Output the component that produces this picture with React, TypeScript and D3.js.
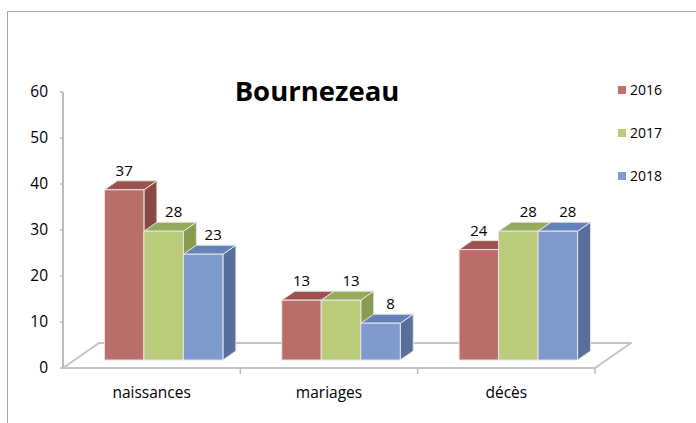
import React from "react";
import * as d3 from "d3";

const categories = ["naissances", "mariages", "décès"];
const seriesNames = ["2016", "2017", "2018"];
const values2016 = [37, 13, 24];
const values2017 = [28, 13, 28];
const values2018 = [23, 8, 28];
const yTicks = [0, 10, 20, 30, 40, 50, 60];

const seriesValues = [values2016, values2017, values2018];

// face colours per series: front, top, side
const colors = [
  { front: "#BA6E69", top: "#9E524E", side: "#8A4843", legend: "#C0706B" },
  { front: "#BACC7A", top: "#97AB5C", side: "#889C50", legend: "#B9CD7B" },
  { front: "#7F9ACC", top: "#6482B8", side: "#566F9D", legend: "#7F9ACB" },
];
const labelNudge = [0, 10, 10];

const W = 696;
const H = 423;
const font = "'Open Sans', sans-serif";

export default function App() {
  const x = d3.scaleBand<string>().domain(categories).range([63, 595]);
  const y = d3.scaleLinear().domain([0, 60]).range([368, 92]);

  const groupW = 118.5;
  const s = d3
    .scaleBand<string>()
    .domain(seriesNames)
    .range([0, groupW]);

  // floor depth and bar depth in projection
  const floor = { dx: 36, dy: -25 };
  const shift = { dx: 12, dy: -8 };
  const depth = { dx: 13, dy: -9 };

  const x0 = x.range()[0];
  const x1 = x.range()[1];
  const base = y(0);

  const bars: React.ReactNode[] = [];
  const labels: React.ReactNode[] = [];
  categories.forEach((cat, ci) => {
    const gx = (x(cat) as number) + x.bandwidth() / 2 - groupW / 2 + shift.dx;
    seriesNames.forEach((name, si) => {
      const v = seriesValues[si][ci];
      const bx = gx + (s(name) as number);
      const bw = s.bandwidth();
      const yb = base + shift.dy;
      const yt = y(v) + shift.dy;
      const c = colors[si];
      const top = `M${bx},${yt}L${bx + bw},${yt}L${bx + bw + depth.dx},${yt + depth.dy}L${bx + depth.dx},${yt + depth.dy}Z`;
      const side = `M${bx + bw},${yt}L${bx + bw + depth.dx},${yt + depth.dy}L${bx + bw + depth.dx},${yb + depth.dy}L${bx + bw},${yb}Z`;
      bars.push(
        <g key={cat + name} stroke="#E6E6E6" strokeWidth={1} strokeLinejoin="round">
          <path d={side} fill={c.side} />
          <path d={top} fill={c.top} />
          <rect x={bx} y={yt} width={bw} height={yb - yt} fill={c.front} />
        </g>
      );
      labels.push(
        <text
          key={"l" + cat + name}
          x={bx + bw / 2 + labelNudge[si]}
          y={yt + depth.dy - 5}
          textAnchor="middle"
          fontSize={15}
          fontFamily={font}
          fill="#000"
        >
          {v}
        </text>
      );
    });
  });

  const floorPath = `M${x0},${base}L${x1},${base}L${x1 + floor.dx},${base + floor.dy}L${x0 + floor.dx},${base + floor.dy}Z`;

  return (
    <svg
      width={W}
      height={H}
      style={{ position: "absolute", left: 0, top: 0, background: "#fff" }}
    >
      {/* outer frame */}
      <path d={`M7.5,${H}V11.5H${W}`} fill="none" stroke="#A6A6A6" strokeWidth={1} />

      {/* floor */}
      <path d={floorPath} fill="#fff" stroke="#C4C4C4" strokeWidth={2} strokeLinejoin="round" />

      {/* y axis */}
      <line x1={x0} x2={x0} y1={y(60)} y2={base} stroke="#BDBDBD" strokeWidth={2} />
      {yTicks.map((t) => (
        <g key={t}>
          <line x1={x0 - 3} x2={x0} y1={y(t)} y2={y(t)} stroke="#BDBDBD" strokeWidth={1.5} />
          <text
            x={48}
            y={y(t)}
            dy="0.35em"
            textAnchor="end"
            fontSize={15.5}
            fontFamily={font}
            fill="#000"
          >
            {t}
          </text>
        </g>
      ))}

      {/* category ticks */}
      {categories.map((cat) => (
        <line
          key={"t" + cat}
          x1={(x(cat) as number) + x.bandwidth()}
          x2={(x(cat) as number) + x.bandwidth()}
          y1={base}
          y2={base + 6}
          stroke="#BDBDBD"
          strokeWidth={1.5}
        />
      ))}
      {categories.map((cat) => (
        <text
          key={"c" + cat}
          x={(x(cat) as number) + x.bandwidth() / 2}
          y={398}
          textAnchor="middle"
          fontSize={15.5}
          fontFamily={font}
          fill="#000"
        >
          {cat}
        </text>
      ))}

      {bars}
      {labels}

      {/* title */}
      <text
        x={317}
        y={101}
        textAnchor="middle"
        fontSize={27.5}
        fontWeight="bold"
        fontFamily={font}
        fill="#000"
      >
        Bournezeau
      </text>

      {/* legend */}
      {seriesNames.map((name, i) => (
        <g key={"lg" + name} transform={`translate(618,${90 + i * 43})`}>
          <rect x={0} y={-4} width={8} height={8} fill={colors[i].legend} />
          <text x={12} y={0} dy="0.35em" fontSize={14} fontFamily={font} fill="#000">
            {name}
          </text>
        </g>
      ))}
    </svg>
  );
}
